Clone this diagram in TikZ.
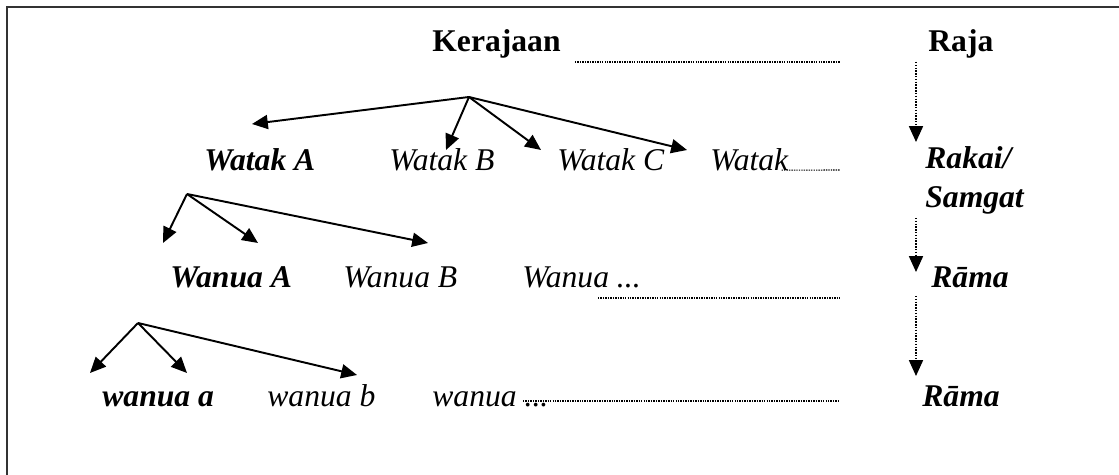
\documentclass[tikz,border=0pt]{standalone}
\usepackage{fontspec}
\setmainfont{Liberation Serif}
\usetikzlibrary{arrows.meta}

\begin{document}
\begin{tikzpicture}[x=0.02cm, y=-0.02cm, >={Triangle[length=9pt,width=8pt]},
    lbl/.style={anchor=base west, inner sep=0pt, font=\fontsize{18}{22.7}\selectfont\itshape},
    lblb/.style={lbl, font=\fontsize{18}{22.7}\selectfont\bfseries\itshape},
    head/.style={lbl, font=\fontsize{18}{22.7}\selectfont\bfseries},
    branch/.style={->, line width=1.1pt},
    guide/.style={line width=0.6pt, dash pattern=on 0.8pt off 0.6pt},
    down/.style={->, line width=0.7pt, dash pattern=on 0.8pt off 0.8pt}]
    \useasboundingbox (0,0) rectangle (1119,475);

    % Frame (open to the right and bottom)
    \draw[black!80, line width=1.2pt] (7,475) -- (7,7) -- (1119,7);

    % Top level
    \node[head] (kerajaan) at (432,52) {Kerajaan};
    \node[head] (raja) at (928,52) {Raja};
    \coordinate (k0) at (575,62);
    \coordinate (k1) at (840,62);
    \draw[guide] (k0) -- (k1);

    % Watak level
    \node[lblb] (wataka) at (204,171) {Watak A};
    \node[lbl] (watakb) at (389,171) {Watak B};
    \node[lbl] (watakc) at (557,171) {Watak C};
    \node[lbl] (watakd) at (710,171) {Watak};
    \coordinate (w1) at (840,170);
    \draw[guide] ([xshift=-4pt,yshift=0.5pt]watakd.base east) -- (w1);

    \coordinate (wtop) at (469,97);
    \coordinate (ta) at (252,124);
    \coordinate (tb) at (446,150);
    \coordinate (tc) at (541,150);
    \coordinate (td) at (687,150);
    \foreach \t in {ta,tb,tc,td}
        \draw[branch] (wtop) -- (\t);

    % Wanua level
    \node[lblb] (wanuaa) at (170,288) {Wanua A};
    \node[lbl] (wanuab) at (343,288) {Wanua B};
    \node[lbl] (wanuad) at (522,288) {Wanua ...};
    \coordinate (n0) at (598,298);
    \coordinate (n1) at (840,298);
    \draw[guide] (n0) -- (n1);

    \coordinate (ntop) at (187,194);
    \coordinate (na) at (163,243);
    \coordinate (nb) at (258,243);
    \coordinate (nc) at (428,243);
    \foreach \t in {na,nb,nc}
        \draw[branch] (ntop) -- (\t);

    % small wanua level
    \node[lblb] (wanuaxa) at (102,407) {wanua a};
    \node[lbl] (wanuaxb) at (267,407) {wanua b};
    \node[lbl] (wanuaxd) at (432,407) {wanua ...};
    \coordinate (m0) at (523,401);
    \coordinate (m1) at (840,401);
    \draw[guide] (m0) -- (m1);

    \coordinate (mtop) at (138,323);
    \coordinate (ma) at (90,373);
    \coordinate (mb) at (187,373);
    \coordinate (mc) at (357,375);
    \foreach \t in {ma,mb,mc}
        \draw[branch] (mtop) -- (\t);

    % Titles on the right
    \node[lblb, align=left] (rakai) at (925,208) {Rakai/\\Samgat};
    \node[lblb] (rama) at (931,288) {Rāma};
    \node[lblb] (ramab) at (922,407) {Rāma};

    \coordinate (r0) at (916,62);
    \coordinate (r1) at (916,142);
    \coordinate (r2) at (916,218);
    \coordinate (r3) at (916,272);
    \coordinate (r4) at (916,296);
    \coordinate (r5) at (916,376);
    \draw[down] (r0) -- (r1);
    \draw[down] (r2) -- (r3);
    \draw[down] (r4) -- (r5);
\end{tikzpicture}
\end{document}
